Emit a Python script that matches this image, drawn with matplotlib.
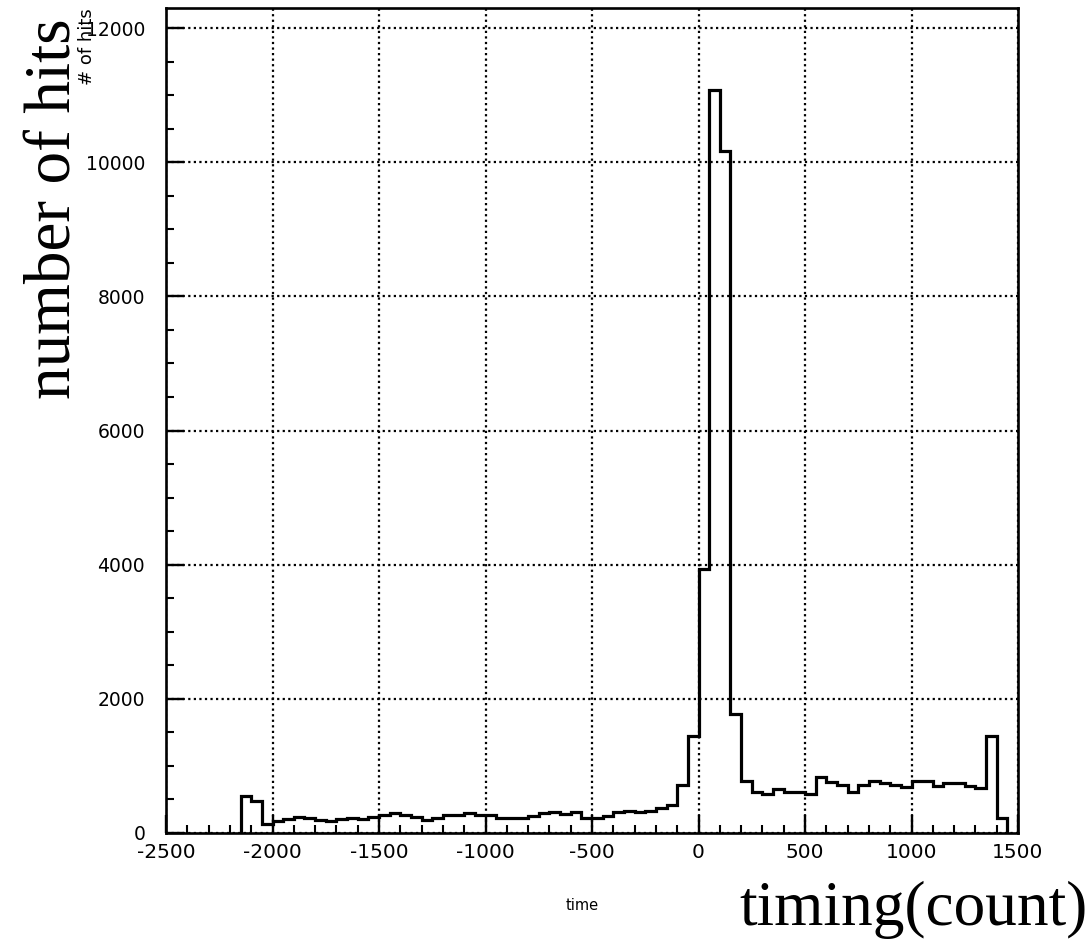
import numpy as np
import matplotlib
matplotlib.use("Agg")
import matplotlib.pyplot as plt
from matplotlib.ticker import MultipleLocator

# Hit counts per 50-count time bin, starting at -2150
bin_start = -2150
bin_width = 50
counts = [
    550, 480, 130, 185, 205, 240, 220, 200, 185, 205,
    225, 205, 245, 270, 300, 270, 235, 195, 230, 265,
    275, 305, 275, 270, 230, 230, 230, 260, 305, 320,
    290, 310, 225, 220, 250, 310, 330, 310, 330, 370,
    420, 720, 1450, 3930, 11080, 10170, 1780, 780, 610, 580,
    655, 605, 605, 580, 840, 760, 720, 615, 720, 775,
    745, 720, 685, 780, 780, 700, 745, 745, 700, 675,
    1440, 225,
]
x_ticks = [-2500, -2000, -1500, -1000, -500, 0, 500, 1000, 1500]
y_ticks = [0, 2000, 4000, 6000, 8000, 10000, 12000]

fig = plt.figure(figsize=(10.92, 9.42), dpi=100)
ax = fig.add_axes([166 / 1092, 1 - 833 / 942, (1018 - 166) / 1092, (833 - 8) / 942])

edges = bin_start + bin_width * np.arange(len(counts) + 1)
ax.stairs(counts, edges, baseline=0, color="black", linewidth=2.3)

ax.set_xlim(-2500, 1500)
ax.set_ylim(0, 12300)
ax.set_xticks(x_ticks)
ax.set_yticks(y_ticks)
ax.set_xticklabels([str(v) for v in x_ticks])
ax.set_yticklabels([str(v) for v in y_ticks])
ax.xaxis.set_minor_locator(MultipleLocator(100))
ax.yaxis.set_minor_locator(MultipleLocator(500))

ax.grid(True, which="major", color="black", linestyle=(0, (1, 1.5)), linewidth=1.6)
ax.set_axisbelow(False)

for s in ax.spines.values():
    s.set_linewidth(1.9)
ax.tick_params(which="major", direction="in", length=13, width=1.7,
               top=False, right=False)
ax.tick_params(axis="x", which="major", pad=7, labelsize=14.5)
ax.tick_params(axis="y", which="major", pad=15, labelsize=13.5)
ax.tick_params(which="minor", direction="in", length=6, width=1.5,
               top=False, right=False)

fig.text(582 / 1092, 1 - 905 / 942, "time", ha="center", va="center", fontsize=10.5)
fig.text(87 / 1092, 1 - 8 / 942, "# of hits", ha="center", va="top",
         rotation=90, fontsize=13)

fig.text(25 / 1092, 1 - 18 / 942, "number of hits", ha="left", va="top",
         rotation=90, fontsize=47, family="Liberation Serif")
fig.text(1088 / 1092, 1 - 925 / 942, "timing(count)", ha="right", va="baseline",
         fontsize=45.5, family="Liberation Serif")

fig.savefig("out.png", dpi=100)
